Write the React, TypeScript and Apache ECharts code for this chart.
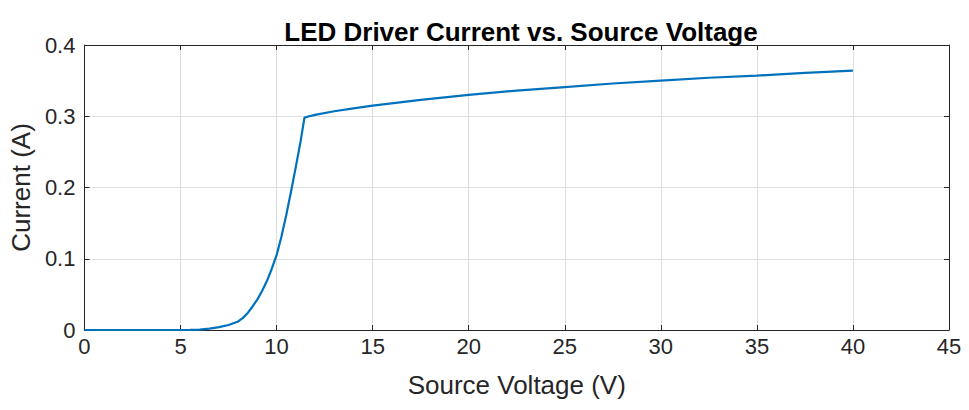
import React, { useEffect, useRef } from "react";
import * as echarts from "echarts";

const voltage = [0, 1, 2, 3, 4, 5, 5.5, 6, 6.5, 7, 7.5, 8, 8.25, 8.5, 8.75, 9, 9.25, 9.5, 9.75, 10, 10.25, 10.5, 10.75, 11, 11.25, 11.45, 11.7, 12, 13, 14, 15, 17.5, 20, 22.5, 25, 27.5, 30, 32.5, 35, 37.5, 40];
const current = [0, 0, 0, 0, 0, 0, 0.0002, 0.0006, 0.002, 0.004, 0.007, 0.012, 0.017, 0.024, 0.033, 0.043, 0.055, 0.069, 0.086, 0.105, 0.131, 0.161, 0.194, 0.229, 0.265, 0.298, 0.300, 0.302, 0.307, 0.311, 0.315, 0.323, 0.33, 0.336, 0.341, 0.346, 0.35, 0.354, 0.357, 0.361, 0.364];
const title = "LED Driver Current vs. Source Voltage";
const xName = "Source Voltage (V)";
const yName = "Current (A)";

const textColor = "#262626";
const axisColor = "#262626";
const gridColor = "#dedede";
const font = "Liberation Sans, Arial, sans-serif";

export default function App() {
  const ref = useRef<HTMLDivElement>(null);
  useEffect(() => {
    if (!ref.current) return;
    const chart = echarts.init(ref.current, null, { renderer: "svg" });
    const xCommon = { type: "value" as const, min: 0, max: 45, interval: 5 };
    const yCommon = { type: "value" as const, min: 0, max: 0.4, interval: 0.1 };
    chart.setOption({
      animation: false,
      backgroundColor: "#ffffff",
      title: {
        text: title,
        left: 516,
        textAlign: "center",
        top: 14,
        textStyle: { fontFamily: font, fontSize: 26, fontWeight: "bold", color: "#000" },
      },
      grid: { left: 84, right: 20, top: 45, bottom: 80, containLabel: false },
      xAxis: [
        {
          ...xCommon,
          position: "bottom",
          name: xName,
          nameLocation: "middle",
          nameGap: 42,
          nameTextStyle: { fontFamily: font, fontSize: 26, color: textColor },
          axisLine: { show: true, lineStyle: { color: axisColor, width: 1 } },
          axisTick: { show: true, inside: true, length: 5, lineStyle: { color: axisColor } },
          axisLabel: { fontFamily: font, fontSize: 22, color: textColor, margin: 5 },
          splitLine: { show: true, lineStyle: { color: gridColor, width: 1 } },
        },
        {
          ...xCommon,
          position: "top",
          axisLine: { show: true, onZero: false, lineStyle: { color: axisColor, width: 1 } },
          axisTick: { show: true, inside: true, length: 5, lineStyle: { color: axisColor } },
          axisLabel: { show: false },
          splitLine: { show: false },
        },
      ],
      yAxis: [
        {
          ...yCommon,
          position: "left",
          name: yName,
          nameLocation: "middle",
          nameGap: 49,
          nameTextStyle: { fontFamily: font, fontSize: 26, color: textColor },
          axisLine: { show: true, lineStyle: { color: axisColor, width: 1 } },
          axisTick: { show: true, inside: true, length: 5, lineStyle: { color: axisColor } },
          axisLabel: { fontFamily: font, fontSize: 22, color: textColor, margin: 9 },
          splitLine: { show: true, lineStyle: { color: gridColor, width: 1 } },
        },
        {
          ...yCommon,
          position: "right",
          axisLine: { show: true, onZero: false, lineStyle: { color: axisColor, width: 1 } },
          axisTick: { show: true, inside: true, length: 5, lineStyle: { color: axisColor } },
          axisLabel: { show: false },
          splitLine: { show: false },
        },
      ],
      series: [
        {
          type: "line",
          xAxisIndex: 0,
          yAxisIndex: 0,
          data: voltage.map((v, i) => [v, current[i]]),
          showSymbol: false,
          symbol: "none",
          smooth: false,
          lineStyle: { color: "#0072BD", width: 2.2 },
          z: 5,
        },
      ],
    });
    return () => chart.dispose();
  }, []);
  return <div ref={ref} style={{ width: 969, height: 410, position: "absolute", left: 0, top: 0 }} />;
}
